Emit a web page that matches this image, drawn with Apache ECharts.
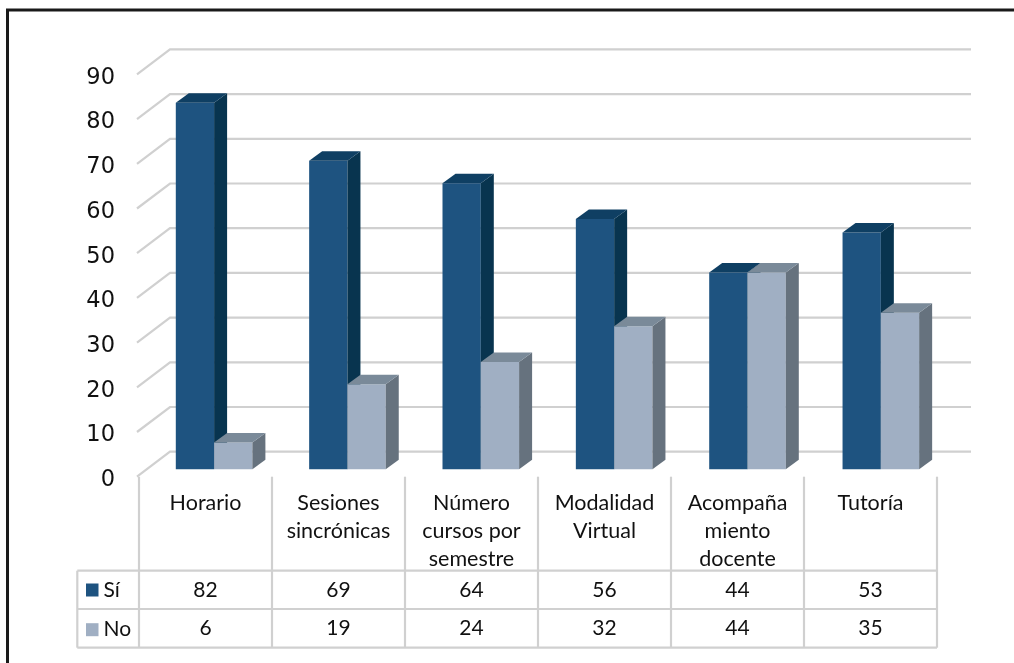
<!DOCTYPE html>
<html><head><meta charset="utf-8">
<style>html,body{margin:0;padding:0;background:#fff}#c{width:1014px;height:663px}</style>
<script src="https://cdn.jsdelivr.net/npm/echarts@6/dist/echarts.min.js"></script>
</head><body><div id="c"></div>
<script>
const categories = ['Horario','Sesiones\nsincrónicas','Número\ncursos por\nsemestre','Modalidad\nVirtual','Acompaña\nmiento\ndocente','Tutoría'];
const si = [82,69,64,56,44,53];
const no = [6,19,24,32,44,35];
const yTicks = [0,10,20,30,40,50,60,70,80,90];

const G = {l:139,t:74.4,w:798,b:476.7};
const wall = {dx:32,dy:-25};
const bar = {w:38.3,dx:13,dy:-9.5,ox:8.6,oy:-7.4,drift:0.35};
const lineC = '#d0d0d0';
const rows = {top:570.7,mid:609,bot:647.7,left:77.3};
const chart = echarts.init(document.getElementById('c'),null,{renderer:'canvas'});

function barSeries(name,vals,pos,front,side,top){
  return {name,type:'custom',coordinateSystem:'cartesian2d',z:5,silent:true,itemStyle:{color:front},
    data:vals.map((v,i)=>[i,v]),
    renderItem(p,api){
      const c=api.coord([api.value(0),api.value(1)]);
      const b=api.coord([api.value(0),0]);
      const x0=c[0]+bar.ox+bar.drift*api.value(0)+(pos===0?-bar.w:0), x1=x0+bar.w;
      const yT=c[1]+bar.oy, yB=b[1]+bar.oy;
      const {dx,dy}=bar;
      return {type:'group',children:[
        {type:'polygon',shape:{points:[[x0,yB],[x1,yB],[x1,yT],[x0,yT]]},style:{fill:front}},
        {type:'polygon',shape:{points:[[x1,yB],[x1+dx,yB+dy],[x1+dx,yT+dy],[x1,yT]]},style:{fill:side}},
        {type:'polygon',shape:{points:[[x0,yT],[x1,yT],[x1+dx,yT+dy],[x0+dx,yT+dy]]},style:{fill:top}}
      ]};
    }};
}

const gridSeries = {type:'custom',z:1,silent:true,data:yTicks.map(v=>[0,v]),
  renderItem(p,api){
    const c=api.coord([0,api.value(1)]);
    const x=G.l-2,y=c[1],bx=x+33,by=y+wall.dy;
    return {type:'polyline',shape:{points:[[x,y],[bx,by],[971,by]]},style:{stroke:lineC,lineWidth:2.2,fill:null}};
  }};

const tableSeries = {type:'custom',z:2,silent:true,data:categories.map((_,i)=>[i,0]),
  renderItem(p,api){
    const i=api.value(0);
    const cx=api.coord([i,0])[0];
    const right=cx+G.w/categories.length/2;
    const st={stroke:lineC,lineWidth:2.2};
    const kids=[{type:'line',shape:{x1:right,y1:G.b,x2:right,y2:rows.bot},style:st}];
    if(i===0){
      const left=cx-G.w/categories.length/2;
      kids.push({type:'line',shape:{x1:left,y1:G.b,x2:left,y2:rows.bot},style:st});
      kids.push({type:'line',shape:{x1:rows.left,y1:rows.top,x2:rows.left,y2:rows.bot},style:st});
      [rows.top,rows.mid,rows.bot].forEach(y=>kids.push({type:'line',shape:{x1:rows.left,y1:y,x2:G.l+G.w,y2:y},style:st}));
    }
    [[si[i],(rows.top+rows.mid)/2],[no[i],(rows.mid+rows.bot)/2]].forEach(([v,y])=>kids.push({type:'text',
      style:{text:String(v),x:cx,y:y,align:'center',verticalAlign:'middle',fill:'#111',font:'21px Lato'}}));
    return {type:'group',children:kids};
  }};

chart.setOption({
  animation:false,backgroundColor:'#fff',
  grid:{left:G.l,top:G.t,width:G.w,height:G.b-G.t,containLabel:false},
  legend:{orient:'vertical',left:86,top:579.5,padding:0,itemWidth:12.5,itemHeight:13,itemGap:18.7,selectedMode:false,icon:'rect',
    data:['Sí','No'],textStyle:{fontFamily:'Lato',fontSize:21,color:'#111',lineHeight:20}},
  xAxis:{type:'category',data:categories,axisLine:{show:false},axisTick:{show:false},splitLine:{show:false},
    axisLabel:{interval:0,margin:12,fontFamily:'Lato',fontSize:21.5,lineHeight:28,color:'#111',verticalAlign:'top'}},
  yAxis:{type:'value',min:0,max:90,interval:10,axisLine:{show:false},axisTick:{show:false},splitLine:{show:false},
    axisLabel:{margin:24,fontFamily:'DejaVu Sans',fontSize:22.5,color:'#111',verticalAlign:'top',lineHeight:7}},
  series:[gridSeries,tableSeries,
    barSeries('Sí',si,0,'#1e5380','#08344f','#0f3f63'),
    barSeries('No',no,1,'#a0afc3','#66727e','#7a8a99')],
  graphic:[
    {type:'polyline',z:100,shape:{points:[[7.5,663],[7.5,10],[1014,10]]},style:{stroke:'#1a1a1a',lineWidth:3,fill:null}}
  ]
});
</script></body></html>
